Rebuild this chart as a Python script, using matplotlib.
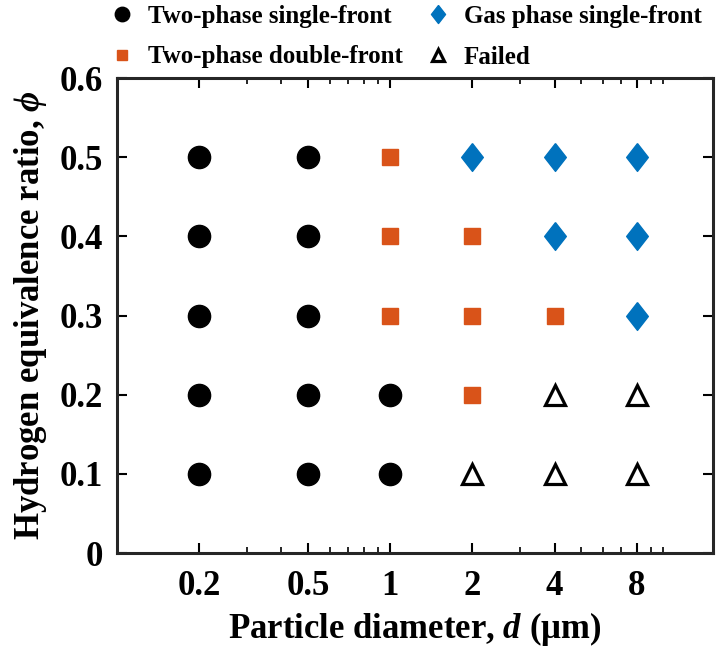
import matplotlib
matplotlib.use("Agg")
import matplotlib.pyplot as plt
from matplotlib.ticker import FixedLocator, FixedFormatter, NullFormatter

plt.rcParams['font.family'] = ['Liberation Serif', 'DejaVu Serif']
plt.rcParams['font.weight'] = 'bold'
plt.rcParams['mathtext.fontset'] = 'custom'
plt.rcParams['mathtext.it'] = 'Liberation Serif:bold:italic'
plt.rcParams['mathtext.rm'] = 'Liberation Serif:bold'
plt.rcParams['mathtext.bf'] = 'Liberation Serif:bold'

# Data
single_d = [0.2, 0.2, 0.2, 0.2, 0.2, 0.5, 0.5, 0.5, 0.5, 0.5, 1, 1]
single_phi = [0.1, 0.2, 0.3, 0.4, 0.5, 0.1, 0.2, 0.3, 0.4, 0.5, 0.1, 0.2]
double_d = [1, 1, 1, 2, 2, 2, 4]
double_phi = [0.3, 0.4, 0.5, 0.2, 0.3, 0.4, 0.3]
gas_d = [2, 4, 4, 8, 8, 8]
gas_phi = [0.5, 0.4, 0.5, 0.3, 0.4, 0.5]
failed_d = [2, 4, 4, 8, 8]
failed_phi = [0.1, 0.1, 0.2, 0.1, 0.2]

xticks = [0.2, 0.5, 1, 2, 4, 8]
xticklabels = ['0.2', '0.5', '1', '2', '4', '8']
xminor = [0.3, 0.4, 0.6, 0.7, 0.8, 0.9, 3, 5, 6, 7, 9, 10]
yticks = [0, 0.1, 0.2, 0.3, 0.4, 0.5, 0.6]
yticklabels = ['0', '0.1', '0.2', '0.3', '0.4', '0.5', '0.6']

blue = '#0072BD'
orange = '#D95319'

fig = plt.figure(figsize=(7.16, 6.49), dpi=100)
ax = fig.add_axes([0.1634, 0.1479, 0.8324, 0.7319])

diamond = [(0, 1), (0.78, 0), (0, -1), (-0.78, 0), (0, 1)]

ax.plot(single_d, single_phi, 'o', color='black', markersize=16, linestyle='none',
        label='Two-phase single-front')
ax.plot(double_d, double_phi, 's', color=orange, markersize=12, linestyle='none',
        label='Two-phase double-front')
ax.plot(gas_d, gas_phi, marker=diamond, color=blue, markersize=20, linestyle='none',
        label='Gas phase single-front')
ax.plot(failed_d, failed_phi, '^', markerfacecolor='white', markeredgecolor='black',
        markeredgewidth=2.3, markersize=14, linestyle='none', label='Failed')

ax.set_xscale('log')
ax.set_xlim(0.1, 15.2)
ax.set_ylim(0, 0.6)
ax.xaxis.set_major_locator(FixedLocator(xticks))
ax.xaxis.set_major_formatter(FixedFormatter(xticklabels))
ax.xaxis.set_minor_locator(FixedLocator(xminor))
ax.xaxis.set_minor_formatter(NullFormatter())
ax.set_yticks(yticks)
ax.set_yticklabels(yticklabels)

ax.tick_params(axis='both', which='major', direction='in', length=7, width=1.5,
               top=True, right=True, labelsize=25, pad=10)
ax.tick_params(axis='x', which='major', pad=12)
ax.tick_params(axis='both', which='minor', direction='in', length=4, width=1.2,
               top=True, right=True)
for s in ax.spines.values():
    s.set_linewidth(2.2)
    s.set_color('#262626')

ax.set_xlabel(r'Particle diameter, $\mathit{d}$ (μm)', fontsize=25, fontweight='bold', labelpad=5)
ax.set_ylabel(r'Hydrogen equivalence ratio, $\mathit{\phi}$', fontsize=25, fontweight='bold', labelpad=8)

handles, labels = ax.get_legend_handles_labels()
leg = fig.legend(handles, labels, loc='upper left', bbox_to_anchor=(112 / 716, 1 - 5 / 649),
                 ncol=2, frameon=False, fontsize=18, handlelength=0.8, handletextpad=0.64,
                 columnspacing=1.0, labelspacing=0.7, markerscale=0.65,
                 borderpad=0, borderaxespad=0)

fig.savefig('out.png', dpi=100)
